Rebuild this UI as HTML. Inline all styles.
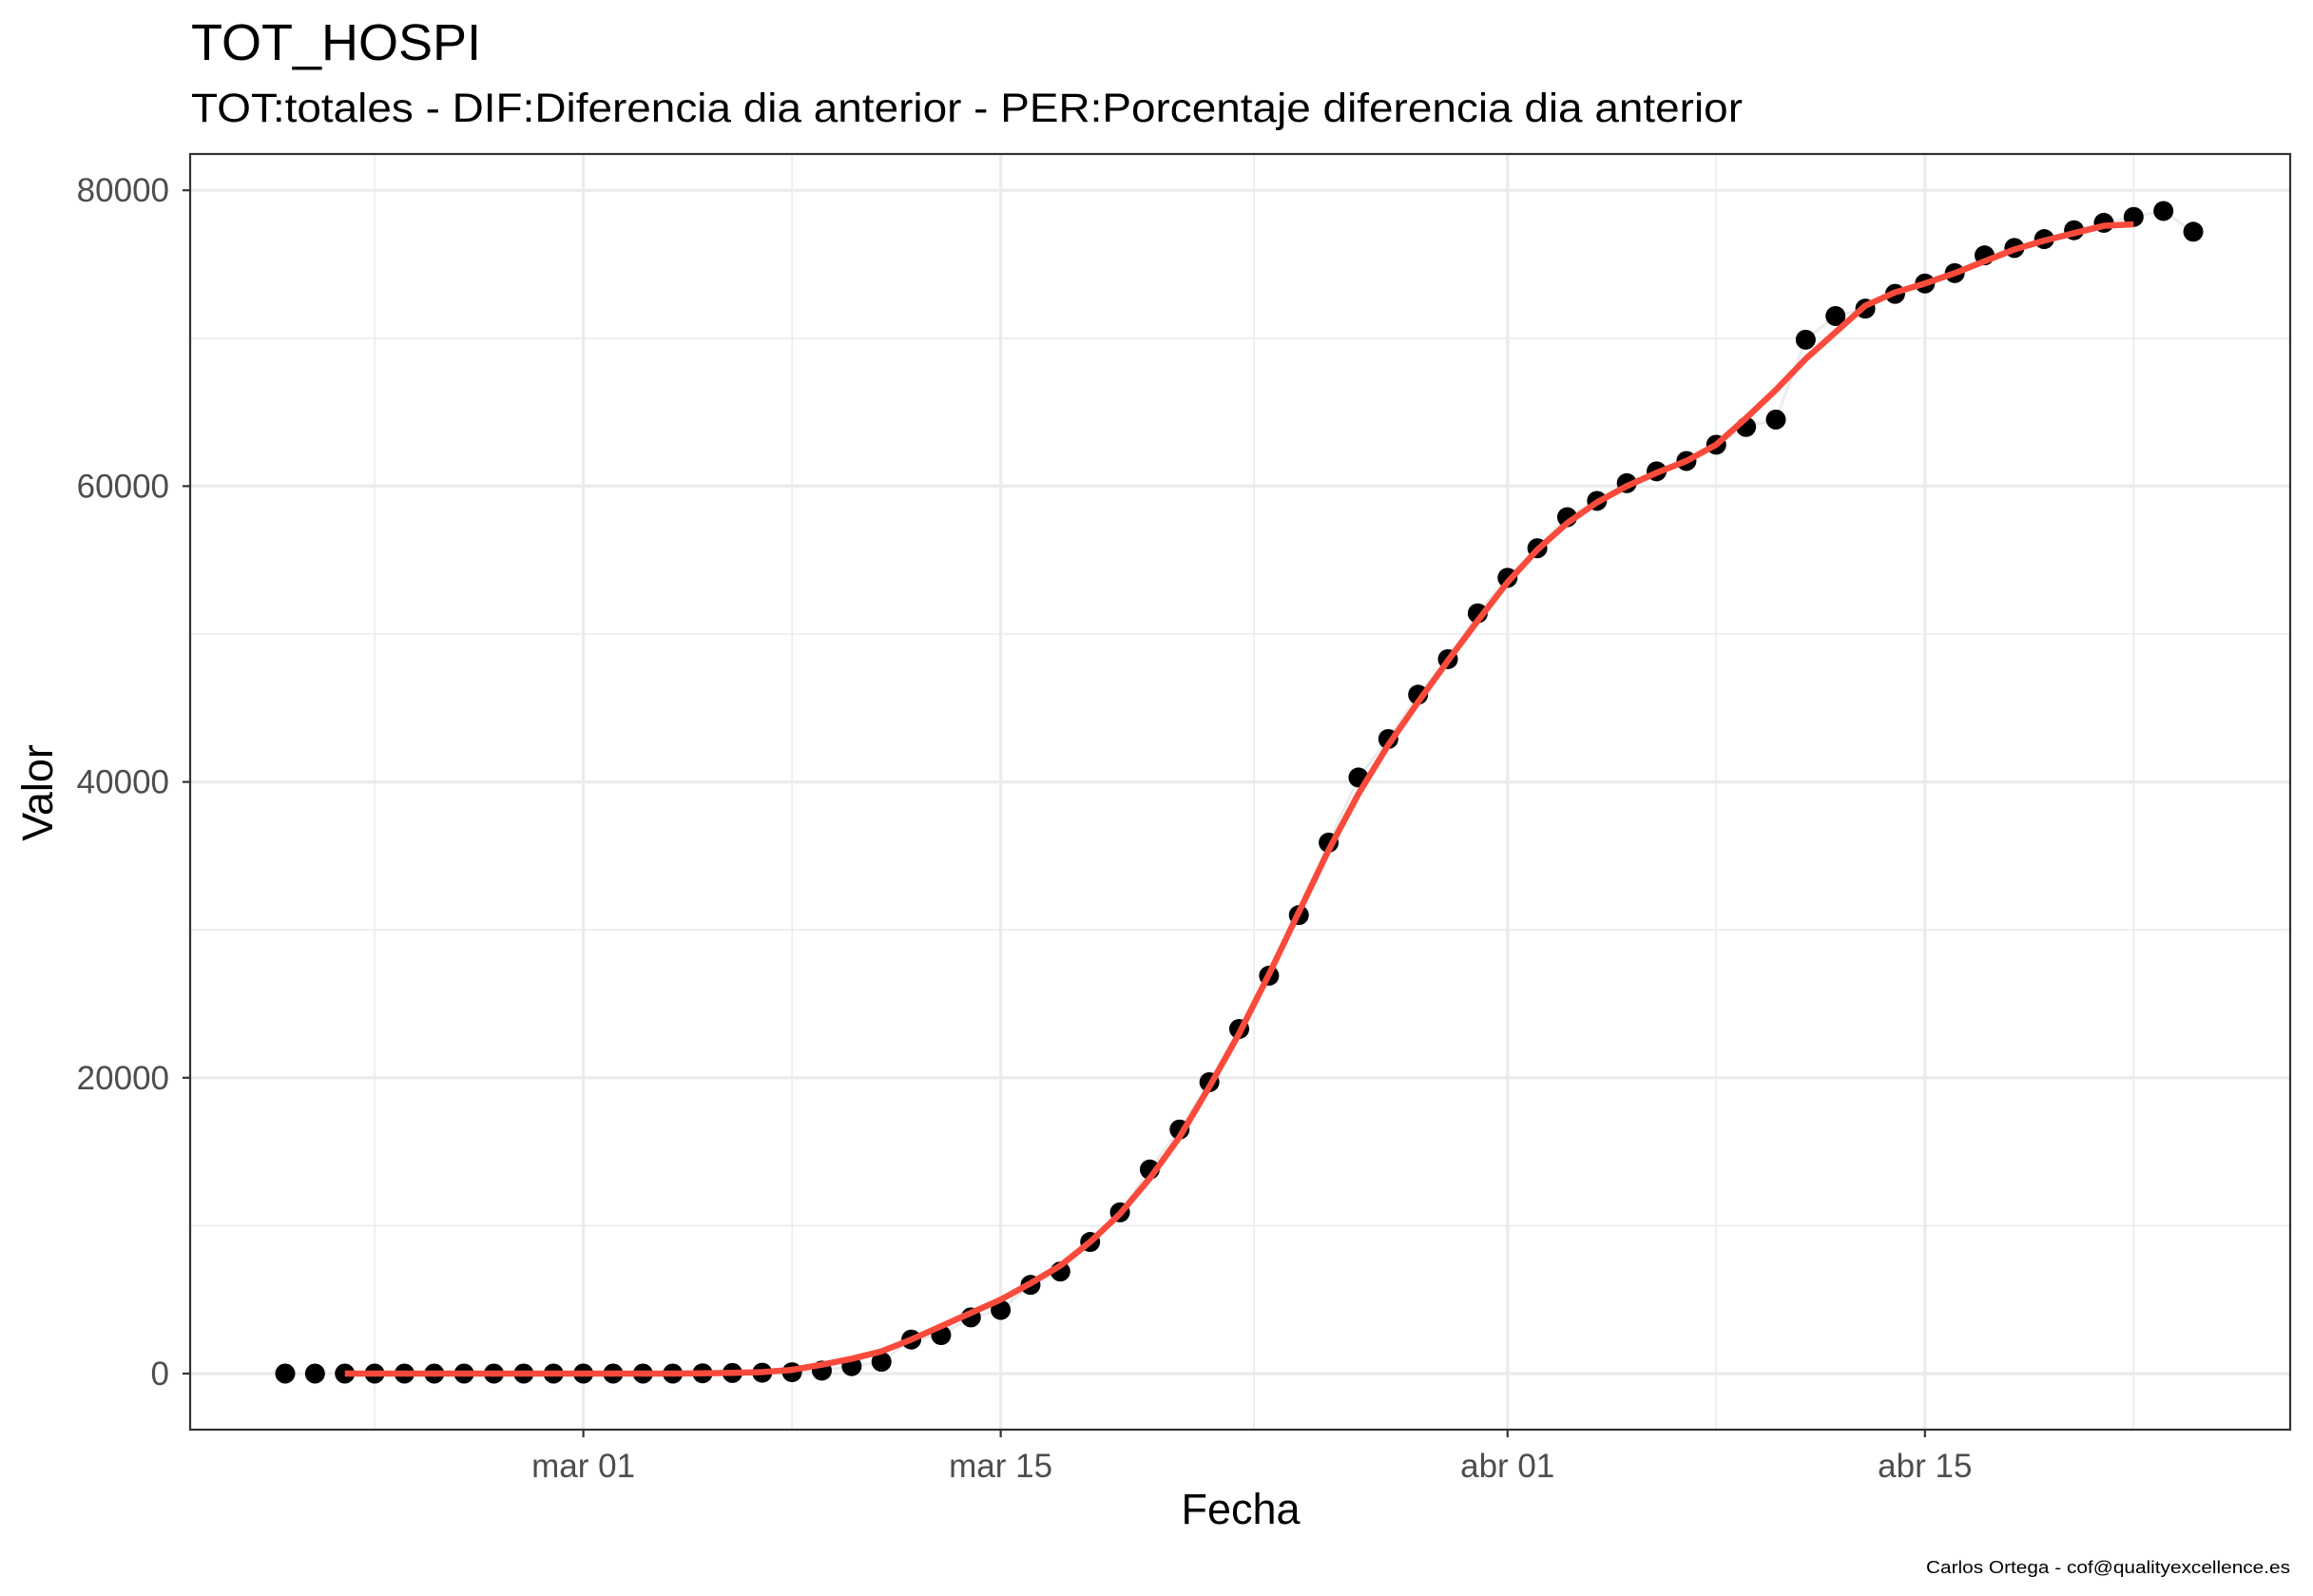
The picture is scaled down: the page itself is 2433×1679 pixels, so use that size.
<!DOCTYPE html>
<html><head><meta charset="utf-8"><style>html,body{margin:0;padding:0;background:#fff}svg{display:block}</style></head>
<body>
<svg id="chart" width="2433" height="1679" viewBox="0 0 2433 1679" xmlns="http://www.w3.org/2000/svg" font-family="Liberation Sans, Arial, sans-serif">
<rect width="2433" height="1679" fill="#fff"/>
<text x="201" y="63" font-size="54" fill="#000">TOT_HOSPI</text>
<text x="201" y="128" font-size="43" fill="#000" textLength="1632" lengthAdjust="spacingAndGlyphs">TOT:totales - DIF:Diferencia dia anterior - PER:Porcentaje diferencia dia anterior</text>
<g id="grid"></g>
<g id="marks"></g>
<rect x="200" y="162" width="2209" height="1342" fill="none" stroke="#333" stroke-width="2.2"/>
<g id="axes"></g>
<text x="1305" y="1603" font-size="45" text-anchor="middle" fill="#000">Fecha</text>
<text x="0" y="0" font-size="45" text-anchor="middle" fill="#000" transform="translate(55,834) rotate(-90)">Valor</text>
<text x="2409" y="1655" font-size="18" text-anchor="end" fill="#000" textLength="383" lengthAdjust="spacingAndGlyphs">Carlos Ortega - cof@qualityexcellence.es</text>
</svg>
<script>
const values = [0,0,0,0,0,0,0,0,0,0,0,0,0,0,20,40,60,90,200,500,800,2300,2600,3800,4300,6000,6900,8900,10900,13800,16500,19700,23300,26900,31000,35900,40300,42900,45900,48300,51400,53800,55800,57900,59000,60200,61000,61700,62800,64000,64500,69900,71500,72000,73000,73700,74400,75600,76100,76700,77300,77800,78200,78600,77200];
const smoothStart = 2;
const smoothValues = [0,0,0,0,0,0,0,0,0,0,0,0,20,50,100,250,600,1000,1500,2300,3200,4100,5000,6100,7300,8900,10800,13200,16000,19400,23000,27000,31200,35400,39200,42500,45400,48200,50900,53500,55700,57500,58900,60000,60900,61700,62800,64600,66500,68600,70400,72200,73100,73700,74400,75200,76000,76600,77100,77600,77700];
const yTicks = [0,20000,40000,60000,80000];
const yMinor = [10000,30000,50000,70000];
const xTickDays = [10,24,41,55];
const xTickLabels = ["mar 01","mar 15","abr 01","abr 15"];
const xMinorDays = [3,17,32.5,48,62];

const NS="http://www.w3.org/2000/svg";
const X = d => 300 + d*31.36;
const Y = v => 1445 - v*0.01556;
function mk(tag, attrs, parent){const e=document.createElementNS(NS,tag);for(const k in attrs)e.setAttribute(k,attrs[k]);parent.appendChild(e);return e;}
const grid=document.getElementById('grid'), marks=document.getElementById('marks'), axes=document.getElementById('axes');
yMinor.forEach(v=>{const l=mk('line',{x1:200,x2:2409,y1:Y(v),y2:Y(v),stroke:'#ebebeb','stroke-width':1.6},grid);

});
xMinorDays.forEach(d=>{const l=mk('line',{x1:X(d),x2:X(d),y1:162,y2:1504,stroke:'#ebebeb','stroke-width':1.6},grid);

});
yTicks.forEach(v=>{const l=mk('line',{x1:200,x2:2409,y1:Y(v),y2:Y(v),stroke:'#ebebeb','stroke-width':3.2},grid);


const t=mk('line',{x1:192,x2:200,y1:Y(v),y2:Y(v),stroke:'#333','stroke-width':2.2},axes);


const tx=mk('text',{x:178,y:Y(v)+12,'font-size':35,'text-anchor':'end',fill:'#4d4d4d'},axes);tx.textContent=v;

});
xTickDays.forEach((d,i)=>{const l=mk('line',{x1:X(d),x2:X(d),y1:162,y2:1504,stroke:'#ebebeb','stroke-width':3.2},grid);


const t=mk('line',{x1:X(d),x2:X(d),y1:1504,y2:1512,stroke:'#333','stroke-width':2.2},axes);


const tx=mk('text',{x:X(d),y:1554,'font-size':35,'text-anchor':'middle',fill:'#4d4d4d'},axes);tx.textContent=xTickLabels[i];

});
const conn=mk('polyline',{points:values.map((v,i)=>X(i)+','+Y(v)).join(' '),fill:'none',stroke:'#ebebeb','stroke-width':3},marks);


values.forEach((v,i)=>{const c=mk('circle',{cx:X(i),cy:Y(v),r:10.5,fill:'#000'},marks);

});
const sm=mk('polyline',{points:smoothValues.map((v,i)=>X(i+smoothStart)+','+Y(v)).join(' '),fill:'none',stroke:'#f94a3b','stroke-width':6.5,'stroke-linejoin':'round'},marks);


</script>
</body></html>
